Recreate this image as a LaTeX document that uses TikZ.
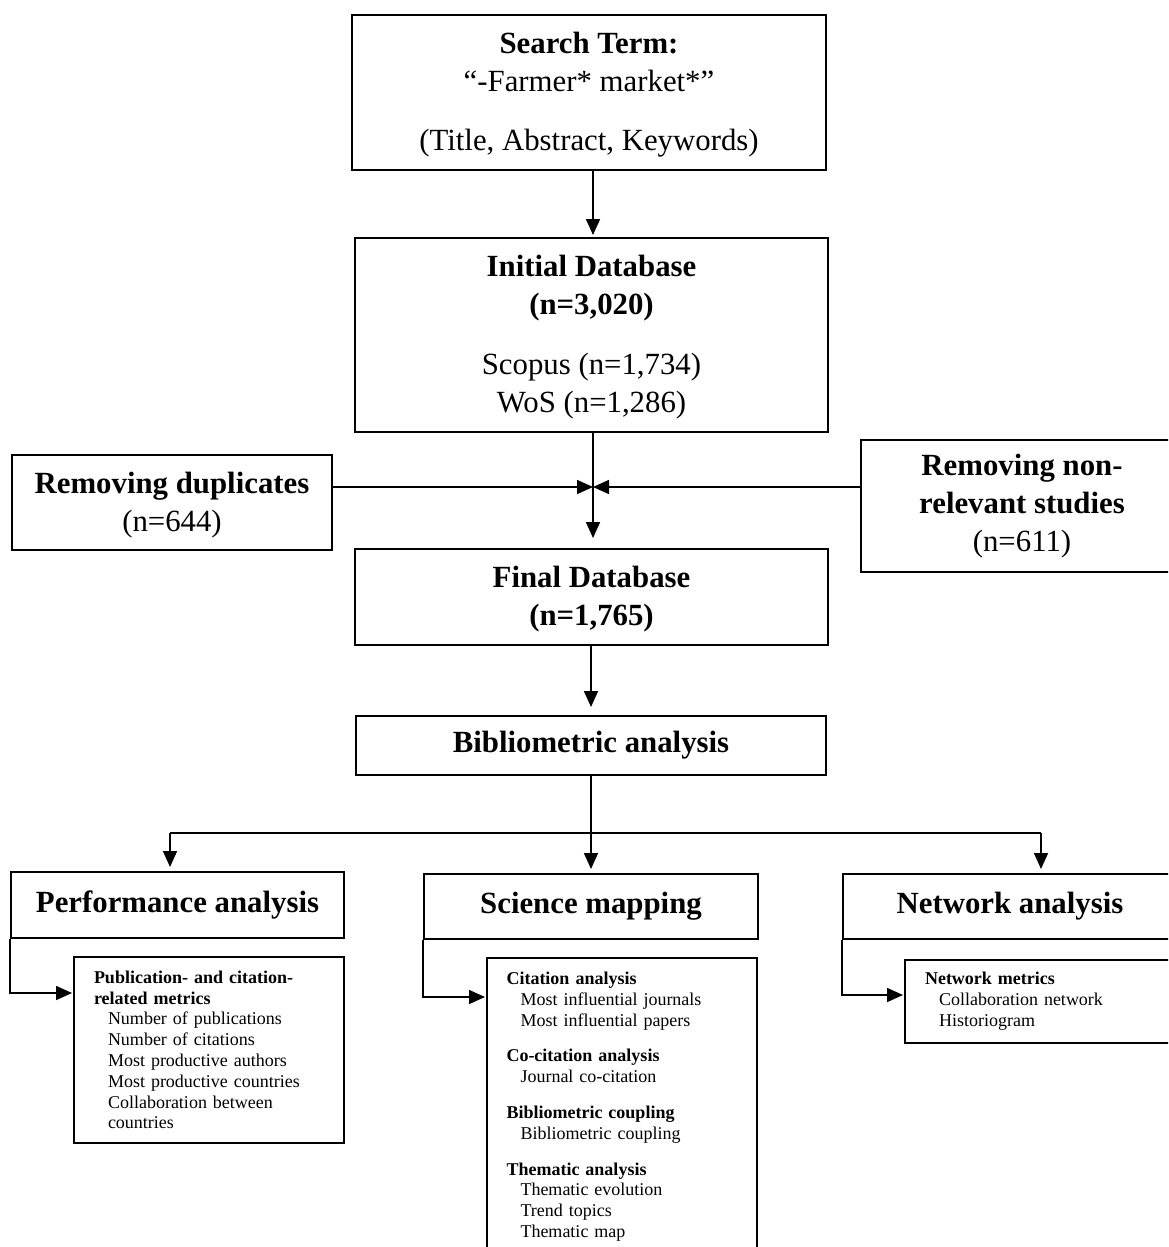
\documentclass[tikz,border=0pt]{standalone}
\usepackage{fontspec}
\setmainfont{Liberation Serif}
\usetikzlibrary{arrows.meta,positioning}

\tikzset{
  box/.style={draw, line width=1pt, align=center, inner sep=0pt,
    font=\fontsize{15.4}{19}\selectfont},
  subbox/.style={draw, line width=1pt, align=left, inner xsep=10pt,
    text width=115pt, font=\fontsize{9}{10.4}\selectfont},
  link/.style={line width=0.8pt},
  arr/.style={link, -{Triangle[length=8pt,width=7pt]}},
}
\newcommand{\metric}[1]{\hspace*{7pt}#1}

\begin{document}
\begin{tikzpicture}[x=0.5pt,y=-0.5pt]
  \useasboundingbox (0,0) rectangle (1168,1247);
  \clip (0,0) rectangle (1168,1247);

  % Search and screening
  \node[box, minimum width=237pt, minimum height=77.5pt] (search) at (589,92.5)
    {\rule{0pt}{13pt}\textbf{Search Term:}\\“-Farmer* market*”\\[10.5pt](Title, Abstract, Keywords)};
  \node[box, minimum width=236.5pt, minimum height=97pt] (init) at (591.5,335)
    {\rule{0pt}{13pt}\textbf{Initial Database}\\\textbf{(n=3,020)}\\[11pt]Scopus (n=1,734)\\WoS (n=1,286)};
  \node[box, minimum width=160pt, minimum height=47.5pt] (dup) at (172,502.5)
    {\rule{0pt}{13pt}\textbf{Removing duplicates}\\(n=644)};
  \node[box, minimum width=161pt, minimum height=66pt] (nonrel) at (1022,506)
    {\textbf{Removing non-}\\\textbf{relevant studies}\\(n=611)};
  \node[box, minimum width=236.5pt, minimum height=48pt] (final) at (591.5,597)
    {\rule{0pt}{13pt}\textbf{Final Database}\\\textbf{(n=1,765)}};
  \node[box, minimum width=235pt, minimum height=29.5pt] (biblio) at (591,745.5)
    {\textbf{Bibliometric analysis}};

  \coordinate (merge) at (593,487);
  \draw[arr, shorten >=1pt] (search.south -| merge) -- (init.north -| merge);
  \draw[arr] (dup.east |- merge) -- (merge);
  \draw[arr] (nonrel.west |- merge) -- (merge);
  \draw[arr, shorten >=5pt] (init.south -| merge) -- (final.north -| merge);
  \draw[arr, shorten >=4pt] (final.south -| biblio) -- (biblio.north);

  % Three branches
  \node[box, minimum width=166.5pt, minimum height=33pt] (perf) at (177.5,905)
    {\textbf{Performance analysis}};
  \node[box, minimum width=167pt, minimum height=32.5pt] (sci) at (591,906.5)
    {\textbf{Science mapping}};
  \node[box, minimum width=167pt, minimum height=32.5pt] (net) at (1010,906.5)
    {\textbf{Network analysis}};

  \coordinate (split) at (591,833);
  \coordinate (splitL) at (170,833);
  \coordinate (splitR) at (1041,833);
  \draw[link] (biblio.south) -- (split);
  \draw[link] (splitL) -- (splitR);
  \draw[arr, shorten >=2pt] (splitL) -- (splitL |- perf.north);
  \draw[arr, shorten >=2pt] (split) -- (sci.north);
  \draw[arr, shorten >=2pt] (splitR) -- (splitR |- net.north);

  % Details of each analysis
  \node[subbox, minimum height=93pt] (perfsub) at (209,1050)
    {\textbf{Publication- and citation-}\\\textbf{related metrics}\\
     \metric{Number of publications}\\
     \metric{Number of citations}\\
     \metric{Most productive authors}\\
     \metric{Most productive countries}\\
     \metric{Collaboration between}\\
     \metric{countries}};
  \node[subbox, anchor=north, inner ysep=7pt] (scisub) at (621.5,957)
    {\textbf{Citation analysis}\\
     \metric{Most influential journals}\\
     \metric{Most influential papers}\\[7.5pt]
     \textbf{Co-citation analysis}\\
     \metric{Journal co-citation}\\[7.5pt]
     \textbf{Bibliometric coupling}\\
     \metric{Bibliometric coupling}\\[7.5pt]
     \textbf{Thematic analysis}\\
     \metric{Thematic evolution}\\
     \metric{Trend topics}\\
     \metric{Thematic map}};
  \node[subbox, minimum height=41.5pt] (netsub) at (1040,1001)
    {\textbf{Network metrics}\\
     \metric{Collaboration network}\\
     \metric{Historiogram}};

  \coordinate (perfin) at (72,993);
  \coordinate (sciin) at (485,997);
  \coordinate (netin) at (903,995);
  \draw[arr] (perf.south west) |- (perfin);
  \draw[arr] (sci.south west) |- (sciin);
  \draw[arr] (net.south west) |- (netin);
\end{tikzpicture}
\end{document}
